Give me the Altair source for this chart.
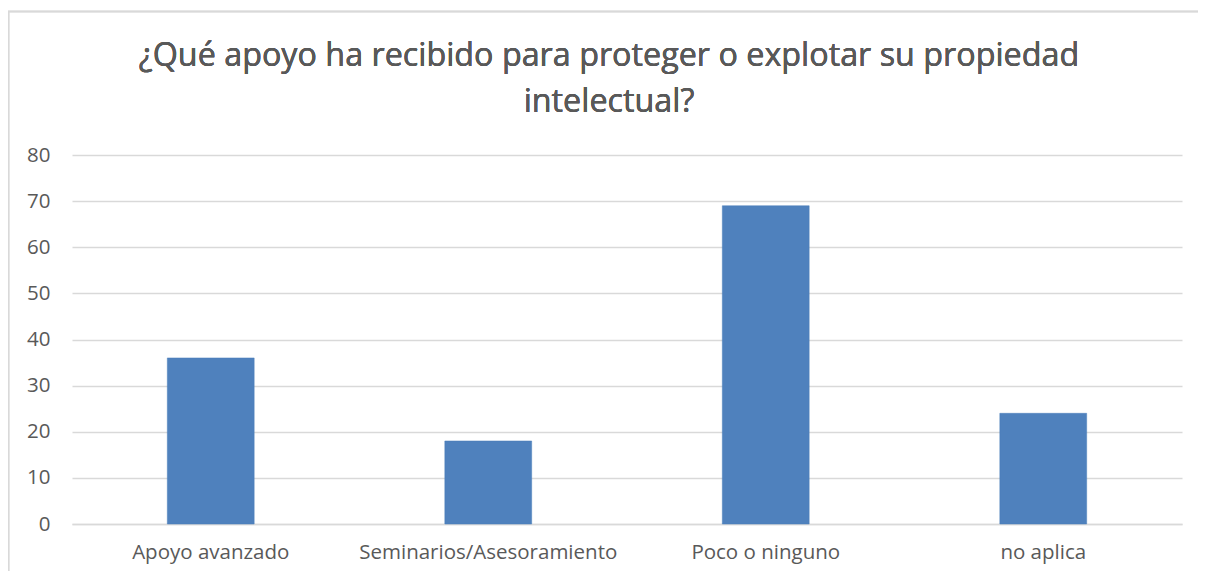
import altair as alt
import pandas as pd

categories = ["Apoyo avanzado", "Seminarios/Asesoramiento", "Poco o ninguno", "no aplica"]
values = [36, 18, 69, 24]
y_ticks = [0, 10, 20, 30, 40, 50, 60, 70, 80]
title_text = "¿Qué apoyo ha recibido para proteger o explotar su propiedad\nintelectual?"

df = pd.DataFrame({"cat": categories, "val": values})

FONT = "Open Sans"
GRAY = "#595959"
GRID = "#d9d9d9"

bars = alt.Chart(df).mark_bar(color="#4f81bd", stroke="#4a7ebb", strokeWidth=0.5).encode(
    x=alt.X("cat:N", sort=categories,
            scale=alt.Scale(paddingInner=0.687, paddingOuter=0.3435),
            axis=alt.Axis(title=None, labelAngle=0, labelFontSize=20.5, labelColor=GRAY,
                          labelFont=FONT, labelPadding=18, ticks=False, labelLimit=400,
                          domainColor=GRID, domainWidth=1.3)),
    y=alt.Y("val:Q", scale=alt.Scale(domain=[0, 80]),
            axis=alt.Axis(title=None, values=y_ticks, labelFontSize=20.5, labelColor=GRAY,
                          labelFont=FONT, labelPadding=22, ticks=False, domain=False,
                          gridColor=GRID, gridWidth=1.3)),
)

border_left = alt.Chart(df).mark_rule(stroke=GRID, strokeWidth=1.5).encode(
    x=alt.value(-63.5), y=alt.value(-144), y2=alt.value(416)
)
border_top = alt.Chart(df).mark_rule(stroke=GRID, strokeWidth=1.5).encode(
    x=alt.value(-64), x2=alt.value(1126), y=alt.value(-143.5)
)

title = alt.Chart(df).mark_text(
    font=FONT, fontSize=32.3, color=GRAY, lineBreak="\n", lineHeight=46,
    align="center", baseline="alphabetic", fontWeight="normal"
).encode(
    x=alt.value(537), y=alt.value(-89), text=alt.value(title_text)
)

chart = alt.layer(border_left, border_top, bars, title).properties(
    width=1110,
    height=369,
    padding={"left": 64, "top": 147, "right": 16, "bottom": 47},
    autosize=alt.AutoSizeParams(type="none"),
).configure(background="white", view=alt.ViewConfig(stroke=None))

chart.save("out.html", embed_options={"renderer": "svg", "actions": False})
